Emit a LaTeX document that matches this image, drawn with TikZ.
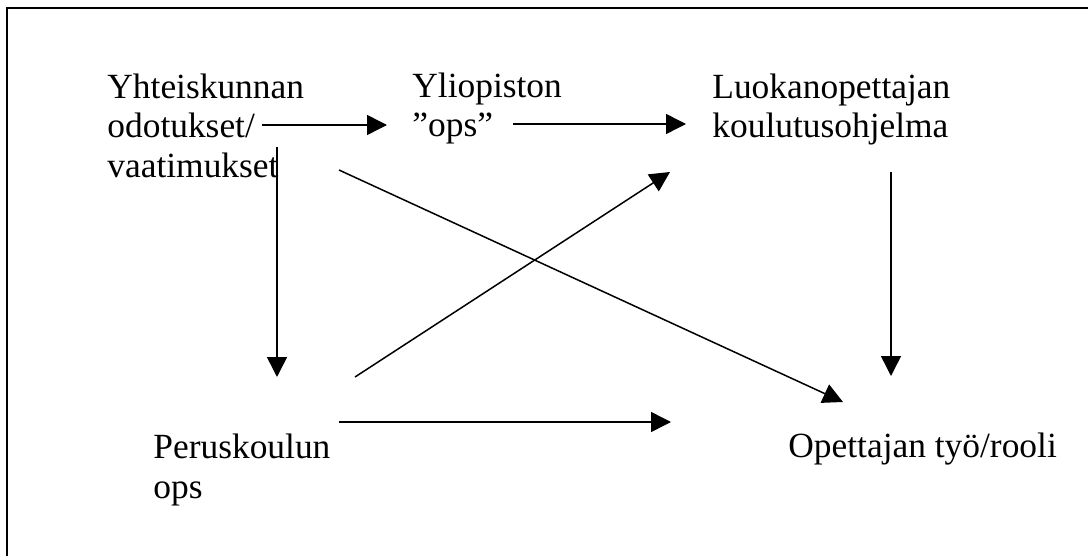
\documentclass[tikz,border=0pt]{standalone}
\usepackage{fontspec}
\setmainfont{Liberation Serif}
\usetikzlibrary{arrows.meta}
\begin{document}
\begin{tikzpicture}[x=0.5pt,y=-0.5pt,
  lbl/.style={anchor=base west,inner sep=0pt,align=left,font=\fontsize{17.7}{19.75}\selectfont},
  conn/.style={line width=0.75pt,-{Triangle[length=10pt,width=10pt]}},
  frame/.style={line width=1.1pt}]
\useasboundingbox (0,0) rectangle (1088,556);
% open frame (top and left edges)
\coordinate (fl) at (7,556);
\coordinate (fc) at (7,8);
\coordinate (fr) at (1088,8);
\draw[frame] (fl) -- (fc) -- (fr);
% texts (anchored at the baseline of their last line)
\node[lbl] (yht) at (107,177) {Yhteiskunnan\\odotukset/\\vaatimukset};
\node[lbl] (ylio) at (412,137) {Yliopiston\\”ops”};
\node[lbl] (luok) at (712,138) {Luokanopettajan\\koulutusohjelma};
\node[lbl] (perus) at (153,498) {Peruskoulun\\ops};
\node[lbl] (opet) at (788,457) {Opettajan työ/rooli};
% connector ends
\coordinate (a1s) at (262,125); \coordinate (a1e) at (387,125);
\coordinate (a2s) at (513,124); \coordinate (a2e) at (686,124);
\coordinate (a3s) at (277,147); \coordinate (a3e) at (277,377);
\coordinate (a4s) at (339,170); \coordinate (a4e) at (843,402);
\coordinate (a5s) at (355,377); \coordinate (a5e) at (670,172);
\coordinate (a6s) at (339,422); \coordinate (a6e) at (671,422);
\coordinate (a7s) at (891,172); \coordinate (a7e) at (891,376);
\draw[conn] (a1s) -- (a1e);
\draw[conn] (a2s) -- (a2e);
\draw[conn] (a3s) -- (a3e);
\draw[conn] (a4s) -- (a4e);
\draw[conn] (a5s) -- (a5e);
\draw[conn] (a6s) -- (a6e);
\draw[conn] (a7s) -- (a7e);
\end{tikzpicture}
\end{document}
